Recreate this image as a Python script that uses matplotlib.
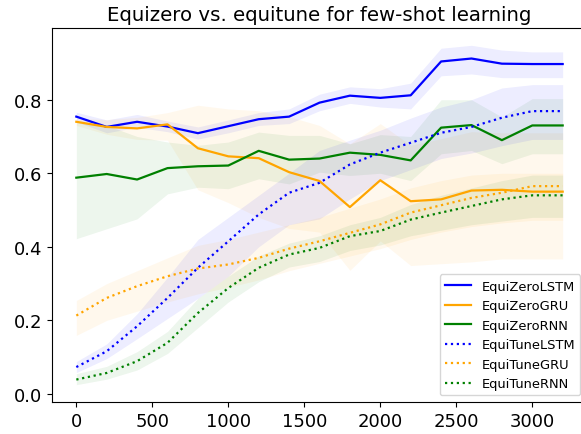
import numpy as np
import matplotlib
matplotlib.use('Agg')
import matplotlib.pyplot as plt

# x positions (training samples)
steps = [0, 200, 400, 600, 800, 1000, 1200, 1400, 1600, 1800, 2000, 2200, 2400, 2600, 2800, 3000, 3200]

# EquiZero (solid)
zero_lstm = [0.754, 0.726, 0.740, 0.727, 0.709, 0.728, 0.747, 0.754, 0.792, 0.811, 0.805, 0.812, 0.904, 0.912, 0.898, 0.897, 0.897]
zero_lstm_lo = [0.740, 0.710, 0.725, 0.713, 0.693, 0.710, 0.730, 0.735, 0.770, 0.790, 0.780, 0.775, 0.865, 0.870, 0.860, 0.860, 0.860]
zero_lstm_hi = [0.766, 0.745, 0.760, 0.742, 0.726, 0.745, 0.765, 0.775, 0.815, 0.835, 0.830, 0.845, 0.940, 0.948, 0.935, 0.930, 0.930]

zero_gru = [0.740, 0.726, 0.722, 0.733, 0.668, 0.646, 0.641, 0.603, 0.579, 0.508, 0.581, 0.524, 0.529, 0.553, 0.555, 0.550, 0.550]
zero_gru_lo = [0.730, 0.706, 0.692, 0.690, 0.555, 0.520, 0.480, 0.450, 0.440, 0.336, 0.416, 0.349, 0.354, 0.359, 0.367, 0.367, 0.367]
zero_gru_hi = [0.750, 0.746, 0.752, 0.765, 0.785, 0.775, 0.770, 0.754, 0.730, 0.680, 0.735, 0.676, 0.694, 0.713, 0.710, 0.710, 0.710]

zero_rnn = [0.588, 0.598, 0.583, 0.614, 0.619, 0.621, 0.661, 0.637, 0.640, 0.656, 0.650, 0.635, 0.724, 0.731, 0.690, 0.730, 0.730]
zero_rnn_lo = [0.422, 0.449, 0.476, 0.544, 0.562, 0.558, 0.585, 0.571, 0.603, 0.594, 0.600, 0.580, 0.653, 0.662, 0.626, 0.653, 0.653]
zero_rnn_hi = [0.739, 0.730, 0.700, 0.685, 0.676, 0.685, 0.712, 0.703, 0.703, 0.680, 0.705, 0.700, 0.800, 0.800, 0.753, 0.803, 0.803]

# EquiTune (dotted)
tune_lstm = [0.073, 0.116, 0.184, 0.261, 0.343, 0.415, 0.488, 0.547, 0.574, 0.624, 0.656, 0.683, 0.710, 0.726, 0.751, 0.769, 0.769]
tune_lstm_lo = [0.058, 0.096, 0.150, 0.205, 0.260, 0.320, 0.400, 0.460, 0.476, 0.530, 0.580, 0.610, 0.640, 0.655, 0.675, 0.692, 0.692]
tune_lstm_hi = [0.088, 0.136, 0.218, 0.317, 0.420, 0.480, 0.540, 0.600, 0.662, 0.690, 0.717, 0.750, 0.780, 0.800, 0.832, 0.841, 0.841]

tune_gru = [0.213, 0.261, 0.293, 0.320, 0.341, 0.352, 0.370, 0.395, 0.415, 0.438, 0.461, 0.493, 0.513, 0.533, 0.547, 0.565, 0.565]
tune_gru_lo = [0.159, 0.200, 0.225, 0.250, 0.272, 0.290, 0.310, 0.335, 0.355, 0.375, 0.395, 0.420, 0.440, 0.455, 0.465, 0.472, 0.472]
tune_gru_hi = [0.254, 0.300, 0.335, 0.370, 0.404, 0.420, 0.440, 0.460, 0.480, 0.505, 0.530, 0.560, 0.580, 0.595, 0.600, 0.600, 0.600]

tune_rnn = [0.039, 0.057, 0.089, 0.139, 0.220, 0.288, 0.343, 0.379, 0.397, 0.429, 0.443, 0.474, 0.493, 0.511, 0.529, 0.540, 0.540]
tune_rnn_lo = [0.025, 0.040, 0.065, 0.110, 0.180, 0.250, 0.305, 0.345, 0.360, 0.390, 0.405, 0.430, 0.445, 0.460, 0.470, 0.480, 0.480]
tune_rnn_hi = [0.055, 0.075, 0.115, 0.170, 0.260, 0.320, 0.375, 0.410, 0.430, 0.460, 0.480, 0.515, 0.540, 0.560, 0.580, 0.595, 0.595]

series = [
    ('EquiZeroLSTM', zero_lstm, zero_lstm_lo, zero_lstm_hi, 'blue', '-'),
    ('EquiZeroGRU', zero_gru, zero_gru_lo, zero_gru_hi, 'orange', '-'),
    ('EquiZeroRNN', zero_rnn, zero_rnn_lo, zero_rnn_hi, 'green', '-'),
    ('EquiTuneLSTM', tune_lstm, tune_lstm_lo, tune_lstm_hi, 'blue', ':'),
    ('EquiTuneGRU', tune_gru, tune_gru_lo, tune_gru_hi, 'orange', ':'),
    ('EquiTuneRNN', tune_rnn, tune_rnn_lo, tune_rnn_hi, 'green', ':'),
]

fig = plt.figure(figsize=(5.81, 4.35), dpi=100)
ax = fig.add_axes([52 / 581, 32 / 435, 535 / 581, 374 / 435])

for name, y, lo, hi, color, ls in series:
    ax.plot(steps, y, color=color, linestyle=ls, linewidth=1.6, label=name)
    ax.fill_between(steps, lo, hi, color=color, alpha=0.07, linewidth=0)

ax.set_xlim(-160, 3360)
ax.set_ylim(-0.022, 0.995)
ax.set_xticks([0, 500, 1000, 1500, 2000, 2500, 3000])
ax.set_yticks([0.0, 0.2, 0.4, 0.6, 0.8])
ax.tick_params(labelsize=13)
ax.set_title('Equizero vs. equitune for few-shot learning', fontsize=14.2)
ax.legend(loc='lower right', fontsize=9.4)

fig.savefig('out.png', dpi=100)
